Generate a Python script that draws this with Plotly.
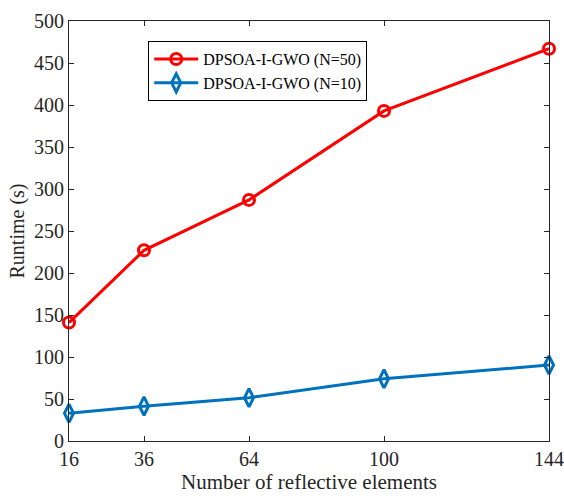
import plotly.graph_objects as go

elements = [16, 36, 64, 100, 144]
runtime_n50 = [141, 227, 287, 393, 467]
runtime_n10 = [33, 41.5, 51.5, 74, 90.5]
x_ticks = [16, 36, 64, 100, 144]
y_ticks = [0, 50, 100, 150, 200, 250, 300, 350, 400, 450, 500]

serif = "Liberation Serif, Times New Roman, serif"

fig = go.Figure()
fig.add_trace(go.Scatter(
    x=elements, y=runtime_n50, mode="lines+markers",
    name="DPSOA-I-GWO (N=50)",
    line=dict(color="#FF0000", width=3),
    marker=dict(symbol="circle-open", size=11, color="#FF0000", line=dict(width=3)),
    cliponaxis=False,
))
fig.add_trace(go.Scatter(
    x=elements, y=runtime_n10, mode="lines+markers",
    name="DPSOA-I-GWO (N=10)",
    line=dict(color="#0072BD", width=3),
    marker=dict(symbol="diamond-tall-open", size=13, color="#0072BD", line=dict(width=3)),
    cliponaxis=False,
))

axis_common = dict(
    showline=True, linecolor="#262626", linewidth=1, mirror="ticks",
    ticks="inside", ticklen=5, tickcolor="#262626", showgrid=False, zeroline=False,
    tickfont=dict(family=serif, size=20, color="#262626"), automargin=False,
)

fig.update_layout(
    width=564, height=498,
    margin=dict(l=69, r=15, t=21, b=57),
    paper_bgcolor="white", plot_bgcolor="white",
    xaxis=dict(range=[16, 144], tickvals=x_ticks, ticktext=[str(v) for v in x_ticks],
               title=dict(text="Number of reflective elements",
                          font=dict(family=serif, size=21, color="#262626"), standoff=4),
               **axis_common),
    yaxis=dict(range=[0, 500], tickvals=y_ticks,
               title=dict(text="Runtime (s)",
                          font=dict(family=serif, size=20, color="#262626"), standoff=4),
               **axis_common),
    legend=dict(x=0.165, y=0.952, xanchor="left", yanchor="top",
                bgcolor="white", bordercolor="#000000", borderwidth=1,
                font=dict(family=serif, size=16, color="#000000"),
                tracegroupgap=0, itemwidth=44),
    showlegend=True,
)

fig.write_html("out.html")
